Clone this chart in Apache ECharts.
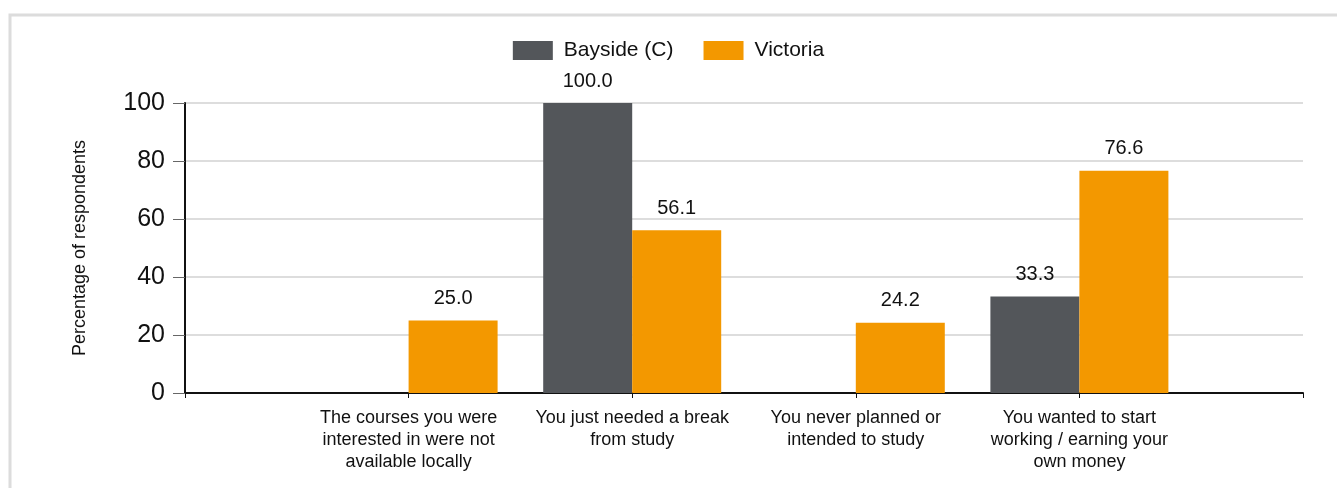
<!DOCTYPE html>
<html>
<head>
<meta charset="utf-8">
<script src="https://cdn.jsdelivr.net/npm/echarts@6/dist/echarts.min.js"></script>
<style>
  html, body { margin: 0; padding: 0; background: #fff; }
  #chart { width: 1337px; height: 488px; }
</style>
</head>
<body>
<div id="chart"></div>
<script>
// categories (blank ends pad the axis like the original)
var categories = ['',
  'The courses you were\ninterested in were not\navailable locally',
  'You just needed a break\nfrom study',
  'You never planned or\nintended to study',
  'You wanted to start\nworking / earning your\nown money',
  ''];
var bayside = [null, null, 100.0, null, 33.3, null];
var victoria = [null, 25.0, 56.1, 24.2, 76.6, null];
var yTicks = [0, 20, 40, 60, 80, 100];

var font = 'Liberation Sans, Arial, sans-serif';
var chart = echarts.init(document.getElementById('chart'));

var labelStyle = {
  show: true,
  position: 'top',
  distance: 12,
  color: '#111',
  fontSize: 20,
  fontFamily: font,
  formatter: function (p) { return p.value == null ? '' : p.value.toFixed(1) }
};

chart.setOption({
  animation: false,
  graphic: [{
    type: 'rect',
    shape: { x: 10, y: 15, width: 1340, height: 490 },
    style: { fill: 'none', stroke: '#dcdcdc', lineWidth: 3 },
    silent: true
  }],
  legend: {
    top: 35,
    left: 'center',
    icon: 'rect',
    itemWidth: 40,
    itemHeight: 19,
    itemGap: 30,
    textStyle: { fontSize: 21, fontFamily: font, color: '#111', padding: [0, 0, 0, 6] },
    data: ['Bayside (C)', 'Victoria']
  },
  grid: { left: 185, right: 34, top: 103, bottom: 95, containLabel: false },
  xAxis: {
    type: 'category',
    data: categories,
    boundaryGap: false,
    axisLine: { lineStyle: { color: '#111', width: 2 } },
    axisTick: { show: true, length: 5, lineStyle: { color: '#111' } },
    axisLabel: {
      interval: 0,
      margin: 14,
      fontSize: 18,
      lineHeight: 22,
      color: '#111',
      fontFamily: font
    },
    splitLine: { show: false }
  },
  yAxis: {
    type: 'value',
    min: 0,
    max: 100,
    interval: 20,
    name: 'Percentage of respondents',
    nameLocation: 'middle',
    nameGap: 96,
    nameTextStyle: { fontSize: 18, color: '#111', fontFamily: font },
    axisLine: { show: true, lineStyle: { color: '#111', width: 2 } },
    axisTick: { show: true, inside: false, length: 12, lineStyle: { color: '#666' } },
    axisLabel: {
      margin: 20,
      fontSize: 25,
      color: '#111',
      fontFamily: font,
      formatter: function (v) { return yTicks.indexOf(v) >= 0 ? String(v) : '' }
    },
    splitLine: { lineStyle: { color: '#dddddd', width: 2 } }
  },
  series: [{
    name: 'Bayside (C)',
    type: 'bar',
    data: bayside,
    barWidth: 89,
    barGap: '0%',
    itemStyle: { color: '#53565a' },
    label: labelStyle
  }, {
    name: 'Victoria',
    type: 'bar',
    data: victoria,
    barWidth: 89,
    barGap: '0%',
    itemStyle: { color: '#f39800' },
    label: labelStyle
  }]
});
</script>
</body>
</html>
